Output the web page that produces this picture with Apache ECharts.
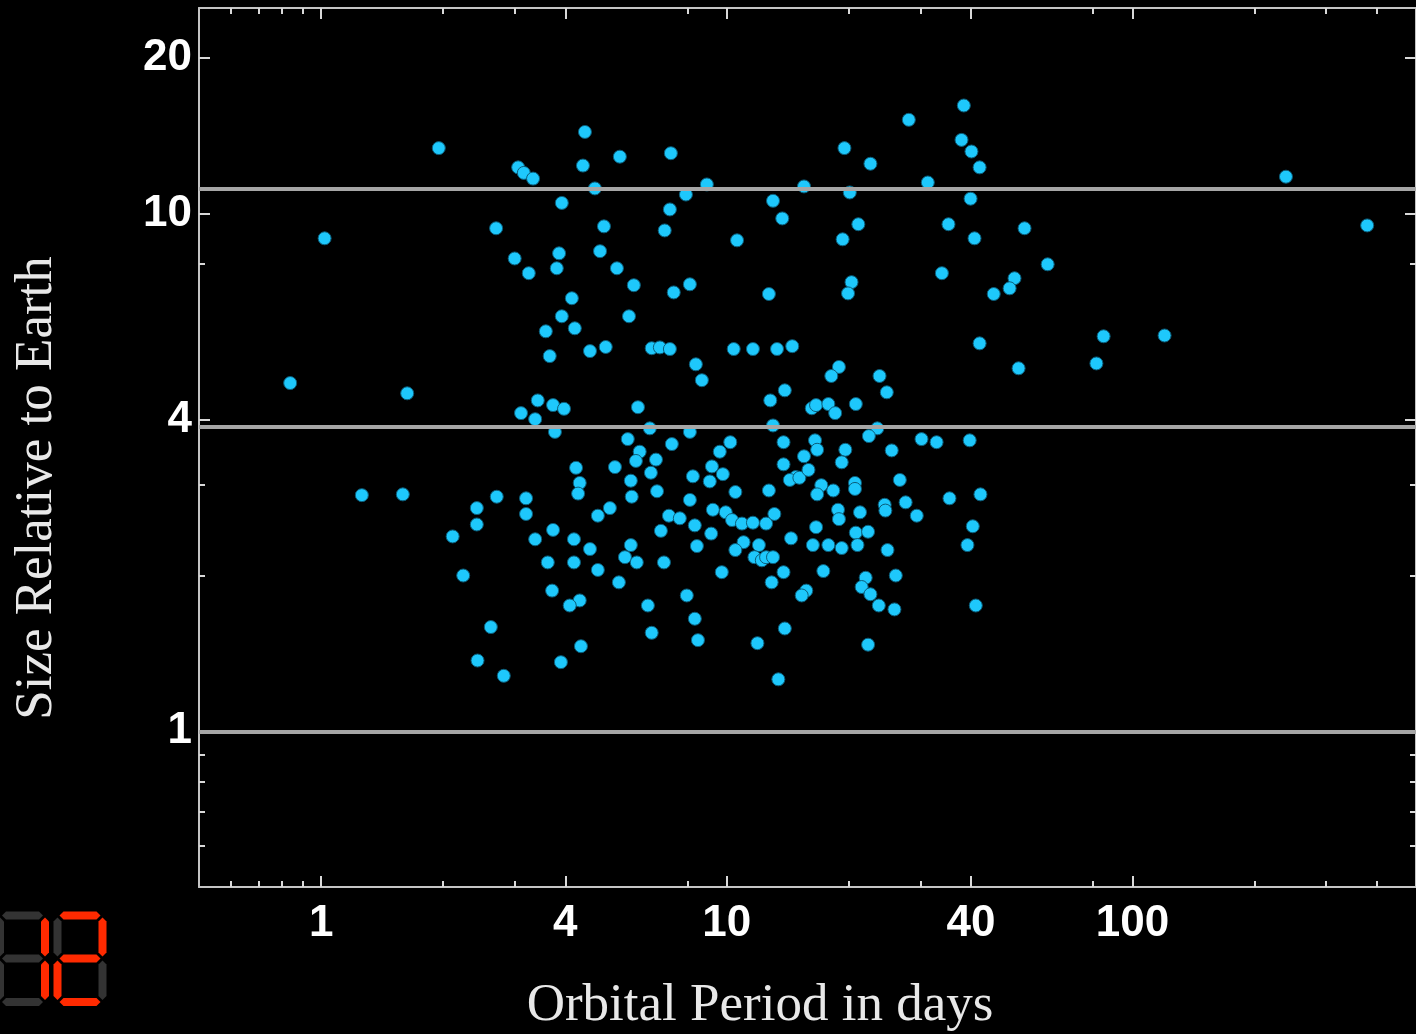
<!DOCTYPE html>
<html><head><meta charset="utf-8">
<script src="https://cdn.jsdelivr.net/npm/echarts@6/dist/echarts.min.js"></script>
<style>html,body{margin:0;padding:0;background:#000;overflow:hidden}#c{width:1416px;height:1034px}</style>
</head><body><div id="c"></div>
<script>
// ---- data (orbital period in days, planet radius relative to Earth) ----
const periodDays = [38.4,28.1,4.47,37.9,1.95,19.5,7.28,40.1,5.45,22.6,3.06,4.42,42.0,3.16,3.33,239,31.3,8.93,4.73,15.5,7.93,20.1,13.0,3.92,39.9,7.24,13.7,21.1,379,4.98,35.2,7.03,2.70,54.2,1.02,10.6,19.3,40.8,4.87,3.86,3.0,61.8,5.36,3.81,3.25,33.9,51.2,5.90,20.3,49.8,8.11,7.40,19.9,45.5,12.7,4.15,3.92,5.74,4.22,3.58,84.9,120,42.0,5.03,4.60,6.53,6.84,7.24,10.4,11.6,13.3,14.5,3.66,8.39,18.9,81.5,18.1,23.8,52.4,8.68,0.839,13.9,1.63,24.8,12.8,3.42,3.73,3.97,6.04,16.2,16.6,17.8,20.8,3.11,18.5,3.37,6.46,13.0,23.5,3.77,8.11,22.4,30.2,32.9,39.7,5.70,10.2,13.8,16.5,7.32,16.7,19.6,25.5,6.1,5.97,9.61,15.5,19.2,4.25,5.30,9.19,6.69,13.8,6.50,8.25,9.78,14.8,26.7,5.80,4.34,9.08,14.3,15.1,15.9,17.1,6.73,20.7,20.7,10.5,12.7,16.7,18.3,5.83,2.71,3.20,35.4,42.2,4.3,8.11,27.6,24.5,24.6,5.15,2.42,7.20,7.66,4.81,3.20,9.24,9.94,13.1,21.3,18.8,29.4,10.3,10.9,11.6,12.5,18.9,16.6,40.4,8.34,2.42,3.73,6.88,9.15,20.8,22.3,14.4,2.11,3.37,4.20,4.60,5.80,8.44,11.0,12.0,16.3,17.8,19.2,21.0,10.5,39.2,24.9,5.61,6.0,7.0,3.62,4.20,11.7,12.2,12.5,13.0,4.81,9.72,13.8,17.3,26.1,2.24,12.9,22.0,21.5,5.42,3.71,7.97,15.7,15.3,22.6,4.34,23.7,25.9,41.1,4.10,6.39,8.34,2.62,6.53,13.9,8.49,11.9,22.3,4.37,2.43,3.90,2.82,13.4,1.26,1.59];
const sizeEarth = [16.2,15.2,14.4,13.9,13.4,13.4,13.1,13.2,12.9,12.5,12.3,12.4,12.3,12.0,11.7,11.8,11.5,11.4,11.2,11.3,10.9,11.0,10.6,10.5,10.7,10.2,9.8,9.55,9.5,9.46,9.55,9.29,9.38,9.38,8.97,8.89,8.93,8.97,8.47,8.39,8.2,7.99,7.85,7.85,7.68,7.68,7.51,7.28,7.38,7.18,7.31,7.05,7.02,7.0,7.0,6.87,6.34,6.34,6.01,5.93,5.80,5.82,5.62,5.53,5.43,5.5,5.52,5.48,5.48,5.48,5.48,5.55,5.31,5.12,5.06,5.14,4.86,4.86,5.03,4.77,4.71,4.56,4.50,4.52,4.36,4.36,4.27,4.20,4.23,4.21,4.27,4.29,4.29,4.12,4.12,4.01,3.85,3.90,3.85,3.79,3.79,3.72,3.67,3.62,3.65,3.67,3.62,3.62,3.65,3.59,3.50,3.50,3.49,3.47,3.33,3.47,3.40,3.31,3.23,3.24,3.25,3.35,3.28,3.16,3.11,3.14,3.10,3.06,3.05,3.02,3.04,3.06,3.09,3.20,2.99,2.91,3.02,2.94,2.90,2.92,2.87,2.92,2.84,2.84,2.82,2.82,2.87,2.88,2.80,2.77,2.74,2.67,2.70,2.70,2.61,2.58,2.61,2.63,2.68,2.65,2.63,2.65,2.68,2.61,2.56,2.52,2.53,2.52,2.57,2.48,2.49,2.50,2.51,2.45,2.44,2.41,2.42,2.43,2.36,2.38,2.35,2.35,2.25,2.29,2.28,2.32,2.29,2.29,2.29,2.26,2.29,2.24,2.29,2.24,2.17,2.12,2.12,2.12,2.12,2.17,2.14,2.17,2.17,2.05,2.03,2.03,2.04,2.0,2.0,1.94,1.98,1.90,1.94,1.87,1.83,1.87,1.83,1.84,1.79,1.75,1.72,1.75,1.75,1.75,1.65,1.59,1.55,1.58,1.50,1.48,1.47,1.46,1.37,1.36,1.28,1.26,2.86,2.87];
const referenceSizes = [1, 3.88, 11.2];       // Earth, Neptune, Jupiter
const xRange = [0.5, 500];
const yRange = [0.5, 25];
const xMajorTicks = [1, 4, 10, 40, 100];
const xMinorTicks = [0.6, 0.7, 0.8, 0.9, 2, 3, 8, 20, 30, 80, 200, 300, 400];
const yMajorTicks = [1, 4, 10, 20];
const yMinorTicks = [0.6, 0.7, 0.8, 0.9, 2, 3, 8];
const xTitle = 'Orbital Period in days';
const yTitle = 'Size Relative to Earth';
const counterText = '12';

// ---- chart ----
const chart = echarts.init(document.getElementById('c'), null, {renderer: 'canvas'});
const points = periodDays.map((p, i) => [p, sizeEarth[i]]);
const L10 = Math.log10;
const labelFont = {color: '#ffffff', fontFamily: '"Liberation Sans", Arial, sans-serif', fontWeight: 'bold', fontSize: 44};
const frameLine = {show: true, onZero: false, lineStyle: {color: '#c4c4c4', width: 2}};
const noLine = {show: false, onZero: false};

function tickAxis(pos, range, vals, len, labels, margin, line, padding) {
  const lv = vals.map(L10);
  return {
    type: 'value', position: pos, min: L10(range[0]), max: L10(range[1]),
    axisLine: line ? frameLine : noLine,
    splitLine: {show: false},
    axisTick: {show: true, inside: true, length: len, customValues: lv, lineStyle: {color: '#d8d8d8', width: 2}},
    axisLabel: labels ? Object.assign({show: true, customValues: lv, margin: margin, padding: padding || 0,
      formatter: v => String(Math.round(Math.pow(10, v)))}, labelFont) : {show: false},
    silent: true
  };
}

const xAxes = [
  {type: 'log', logBase: 10, min: xRange[0], max: xRange[1], position: 'bottom',
   axisLine: frameLine, axisTick: {show: false}, axisLabel: {show: false}, splitLine: {show: false}},
  tickAxis('bottom', xRange, xMajorTicks, 11, true, 15),
  tickAxis('bottom', xRange, xMinorTicks, 6, false),
  tickAxis('top', xRange, xMajorTicks, 11, false, 0, true),
  tickAxis('top', xRange, xMinorTicks, 6, false)
];
const yAxes = [
  {type: 'log', logBase: 10, min: yRange[0], max: yRange[1], position: 'left',
   axisLine: frameLine, axisTick: {show: false}, axisLabel: {show: false}, splitLine: {show: false}},
  tickAxis('left', yRange, yMajorTicks, 11, true, 7, false, [6, 0, 0, 0]),
  tickAxis('left', yRange, yMinorTicks, 6, false),
  tickAxis('right', yRange, yMajorTicks, 11, false, 0, true),
  tickAxis('right', yRange, yMinorTicks, 6, false)
];

// seven-segment counter
function segments(xl, xr, yt, ym, yb, t, g) {
  const h = (x1, x2, y) => [[x1, y], [x1 + t/2, y - t/2], [x2 - t/2, y - t/2], [x2, y], [x2 - t/2, y + t/2], [x1 + t/2, y + t/2]];
  const v = (x, y1, y2) => [[x, y1], [x + t/2, y1 + t/2], [x + t/2, y2 - t/2], [x, y2], [x - t/2, y2 - t/2], [x - t/2, y1 + t/2]];
  return {
    a: h(xl + g, xr - g, yt), b: v(xr, yt + g, ym - g), c: v(xr, ym + g, yb - g),
    d: h(xl + g, xr - g, yb), e: v(xl, ym + g, yb - g), f: v(xl, yt + g, ym - g), g: h(xl + g, xr - g, ym)
  };
}
const digitMap = {'0':'abcdef','1':'bc','2':'abged','3':'abgcd','4':'fgbc','5':'afgcd','6':'afgedc','7':'abc','8':'abcdefg','9':'abcdfg'};
const counterGraphics = [];
const digitLefts = [0, 57.5];
counterText.split('').forEach((ch, i) => {
  const xl = digitLefts[i], xr = xl + 45;
  const segs = segments(xl, xr, 915.5, 958.5, 1002, 8, 2);
  Object.keys(segs).forEach(k => {
    counterGraphics.push({type: 'polygon', shape: {points: segs[k]}, style: {fill: digitMap[ch].includes(k) ? '#ff2a00' : '#333333'}, silent: true});
  });
});

const option = {
  backgroundColor: '#000000',
  animation: false,
  grid: {left: 199, right: -1, top: 8, bottom: 147, containLabel: false},
  xAxis: xAxes,
  yAxis: yAxes,
  series: [
    {type: 'scatter', xAxisIndex: 0, yAxisIndex: 0, data: [], z: 1,
     markLine: {silent: true, symbol: 'none', label: {show: false}, animation: false,
       lineStyle: {color: '#a6a6a6', width: 4, type: 'solid'},
       data: referenceSizes.map(v => ({yAxis: v}))}},
    {type: 'scatter', xAxisIndex: 0, yAxisIndex: 0, data: points, z: 3,
     symbol: 'circle', symbolSize: 13,
     itemStyle: {color: '#1ec8fc', borderColor: '#0b5d7a', borderWidth: 1, opacity: 1}}
  ],
  graphic: [
    {type: 'text', x: 760, y: 1006, silent: true,
     style: {text: xTitle, font: '53px "Liberation Serif", "Times New Roman", serif', fill: '#e8e8e8', textAlign: 'center', textVerticalAlign: 'middle'}},
    {type: 'text', x: 37, y: 488, rotation: Math.PI / 2, silent: true,
     style: {text: yTitle, font: '53px "Liberation Serif", "Times New Roman", serif', fill: '#e8e8e8', textAlign: 'center', textVerticalAlign: 'middle'}}
  ].concat(counterGraphics)
};
chart.setOption(option);
</script></body></html>
